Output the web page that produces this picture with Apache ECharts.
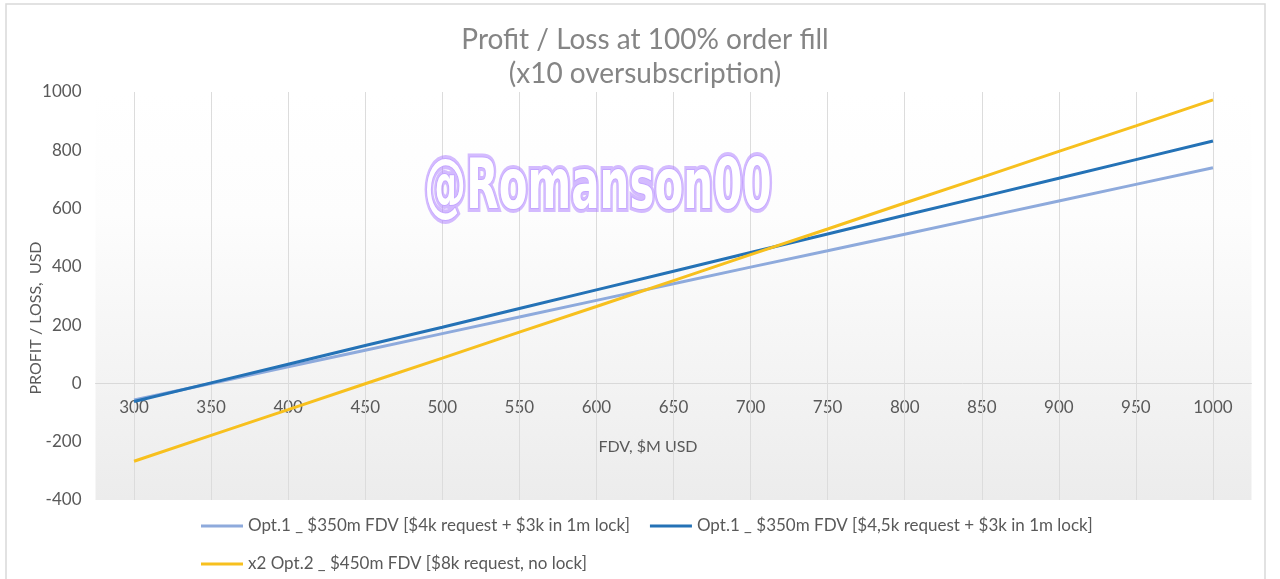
<!DOCTYPE html>
<html>
<head>
<meta charset="utf-8">
<script src="https://cdn.jsdelivr.net/npm/echarts@6/dist/echarts.min.js"></script>
<style>
html,body{margin:0;padding:0;background:#fff;}
#c{width:1280px;height:579px;}
</style>
</head>
<body>
<div id="c"></div>
<script>
const categories = ['300','350','400','450','500','550','600','650','700','750','800','850','900','950','1000'];
const opt1Small = [-57, 0, 57, 114, 171, 228, 285, 342, 399, 455, 512, 569, 626, 683, 740];
const opt1Large = [-62, 2, 66, 130, 193, 257, 321, 385, 449, 513, 577, 640, 704, 768, 832];
const opt2 = [-267, -178, -90, -1, 87, 176, 264, 353, 442, 530, 619, 707, 796, 884, 973];
const seriesNames = [
  'Opt.1 _ $350m FDV [$4k request + $3k in 1m lock]',
  'Opt.1 _ $350m FDV [$4,5k request + $3k in 1m lock]',
  'x2 Opt.2 _ $450m FDV [$8k request, no lock]'
];
const yTicks = {min: -400, max: 1000, interval: 200};

const FONT = 'Lato, "Open Sans", sans-serif';
const chart = echarts.init(document.getElementById('c'));

const gridTop = 92, gridHeight = 408;
// place the category axis on the zero line of the value scale
const zeroOffset = -gridHeight * (0 - yTicks.min) / (yTicks.max - yTicks.min);

const gridLines = categories.map(c => ({xAxis: c}));

const option = {
  animation: false,
  backgroundColor: '#ffffff',
  title: {
    text: 'Profit / Loss at 100% order fill\n(x10 oversubscription)',
    left: 640, top: 18, textAlign: 'center',
    textStyle: {fontFamily: FONT, fontSize: 28, fontWeight: 'normal', color: '#858585', lineHeight: 34}
  },
  grid: {left: 95.5, width: 1156, top: gridTop, height: gridHeight, containLabel: false},
  legend: {
    left: 196, top: 512, width: 1000,
    itemWidth: 42, itemHeight: 3, itemGap: 20,
    icon: 'rect',
    textStyle: {fontFamily: FONT, fontSize: 17, color: '#595959', lineHeight: 18},
    data: seriesNames
  },
  xAxis: {
    type: 'category', data: categories, boundaryGap: true,
    offset: zeroOffset,
    axisLine: {onZero: false, lineStyle: {color: '#d9d9d9', width: 1}},
    axisTick: {show: false},
    axisLabel: {fontFamily: FONT, fontSize: 17, color: '#595959', margin: 16, interval: 0},
    splitLine: {show: false}
  },
  yAxis: {
    type: 'value', min: yTicks.min, max: yTicks.max, interval: yTicks.interval,
    axisLine: {show: false}, axisTick: {show: false},
    splitLine: {show: false},
    axisLabel: {fontFamily: FONT, fontSize: 17, color: '#595959', margin: 14, formatter: v => String(v)}
  },
  graphic: [
    {type: 'rect', z: -10, silent: true, shape: {x: 95.5, y: 92, width: 1156, height: 408},
      style: {fill: new echarts.graphic.LinearGradient(0, 0, 0, 1, [
        {offset: 0, color: '#ffffff'}, {offset: 0.3, color: '#fdfdfd'}, {offset: 1, color: '#ececec'}
      ])}},
    {type: 'rect', z: -11, silent: true, shape: {x: 6, y: 4, width: 1259, height: 600},
      style: {fill: 'none', stroke: '#d9d9d9', lineWidth: 1.5}},
    {type: 'text', silent: true, x: 36, y: 318, rotation: Math.PI / 2,
      style: {text: 'PROFIT / LOSS,  USD', fontFamily: FONT, fontSize: 16, fill: '#595959',
        textAlign: 'center', textVerticalAlign: 'middle'}},
    {type: 'text', silent: true, x: 648, y: 447,
      style: {text: 'FDV, $M USD', fontFamily: FONT, fontSize: 16, fill: '#595959',
        textAlign: 'center', textVerticalAlign: 'middle'}},
    {type: 'text', silent: true, z: 99, x: 598, y: 190, scaleX: 0.6,
      style: {text: '@Romanson00', font: 'bold 70px "DejaVu Sans", sans-serif',
        fill: 'rgba(170,120,255,0.35)', stroke: 'rgba(170,120,255,0.5)', lineWidth: 8,
        textAlign: 'center', textVerticalAlign: 'middle',
        shadowBlur: 28, shadowColor: 'rgba(150,100,255,0.9)'}},
    {type: 'text', silent: true, z: 100, x: 598, y: 190, scaleX: 0.6,
      style: {text: '@Romanson00', font: 'bold 70px "DejaVu Sans", sans-serif',
        fill: '#ffffff', stroke: '#c4a6ff', lineWidth: 2,
        textAlign: 'center', textVerticalAlign: 'middle'}}
  ],
  series: [
    {name: seriesNames[0], type: 'line', data: opt1Small, symbol: 'none', z: 3,
      lineStyle: {color: '#8eaadc', width: 3}, itemStyle: {color: '#8eaadc'},
      markLine: {silent: true, symbol: 'none', label: {show: false},
        lineStyle: {color: '#dcdcdc', width: 1, type: 'solid'}, data: gridLines, z: 1}},
    {name: seriesNames[1], type: 'line', data: opt1Large, symbol: 'none', z: 4,
      lineStyle: {color: '#2472b6', width: 3}, itemStyle: {color: '#2472b6'}},
    {name: seriesNames[2], type: 'line', data: opt2, symbol: 'none', z: 5,
      lineStyle: {color: '#f7c01e', width: 3}, itemStyle: {color: '#f7c01e'}}
  ]
};
chart.setOption(option);
</script>
</body>
</html>
